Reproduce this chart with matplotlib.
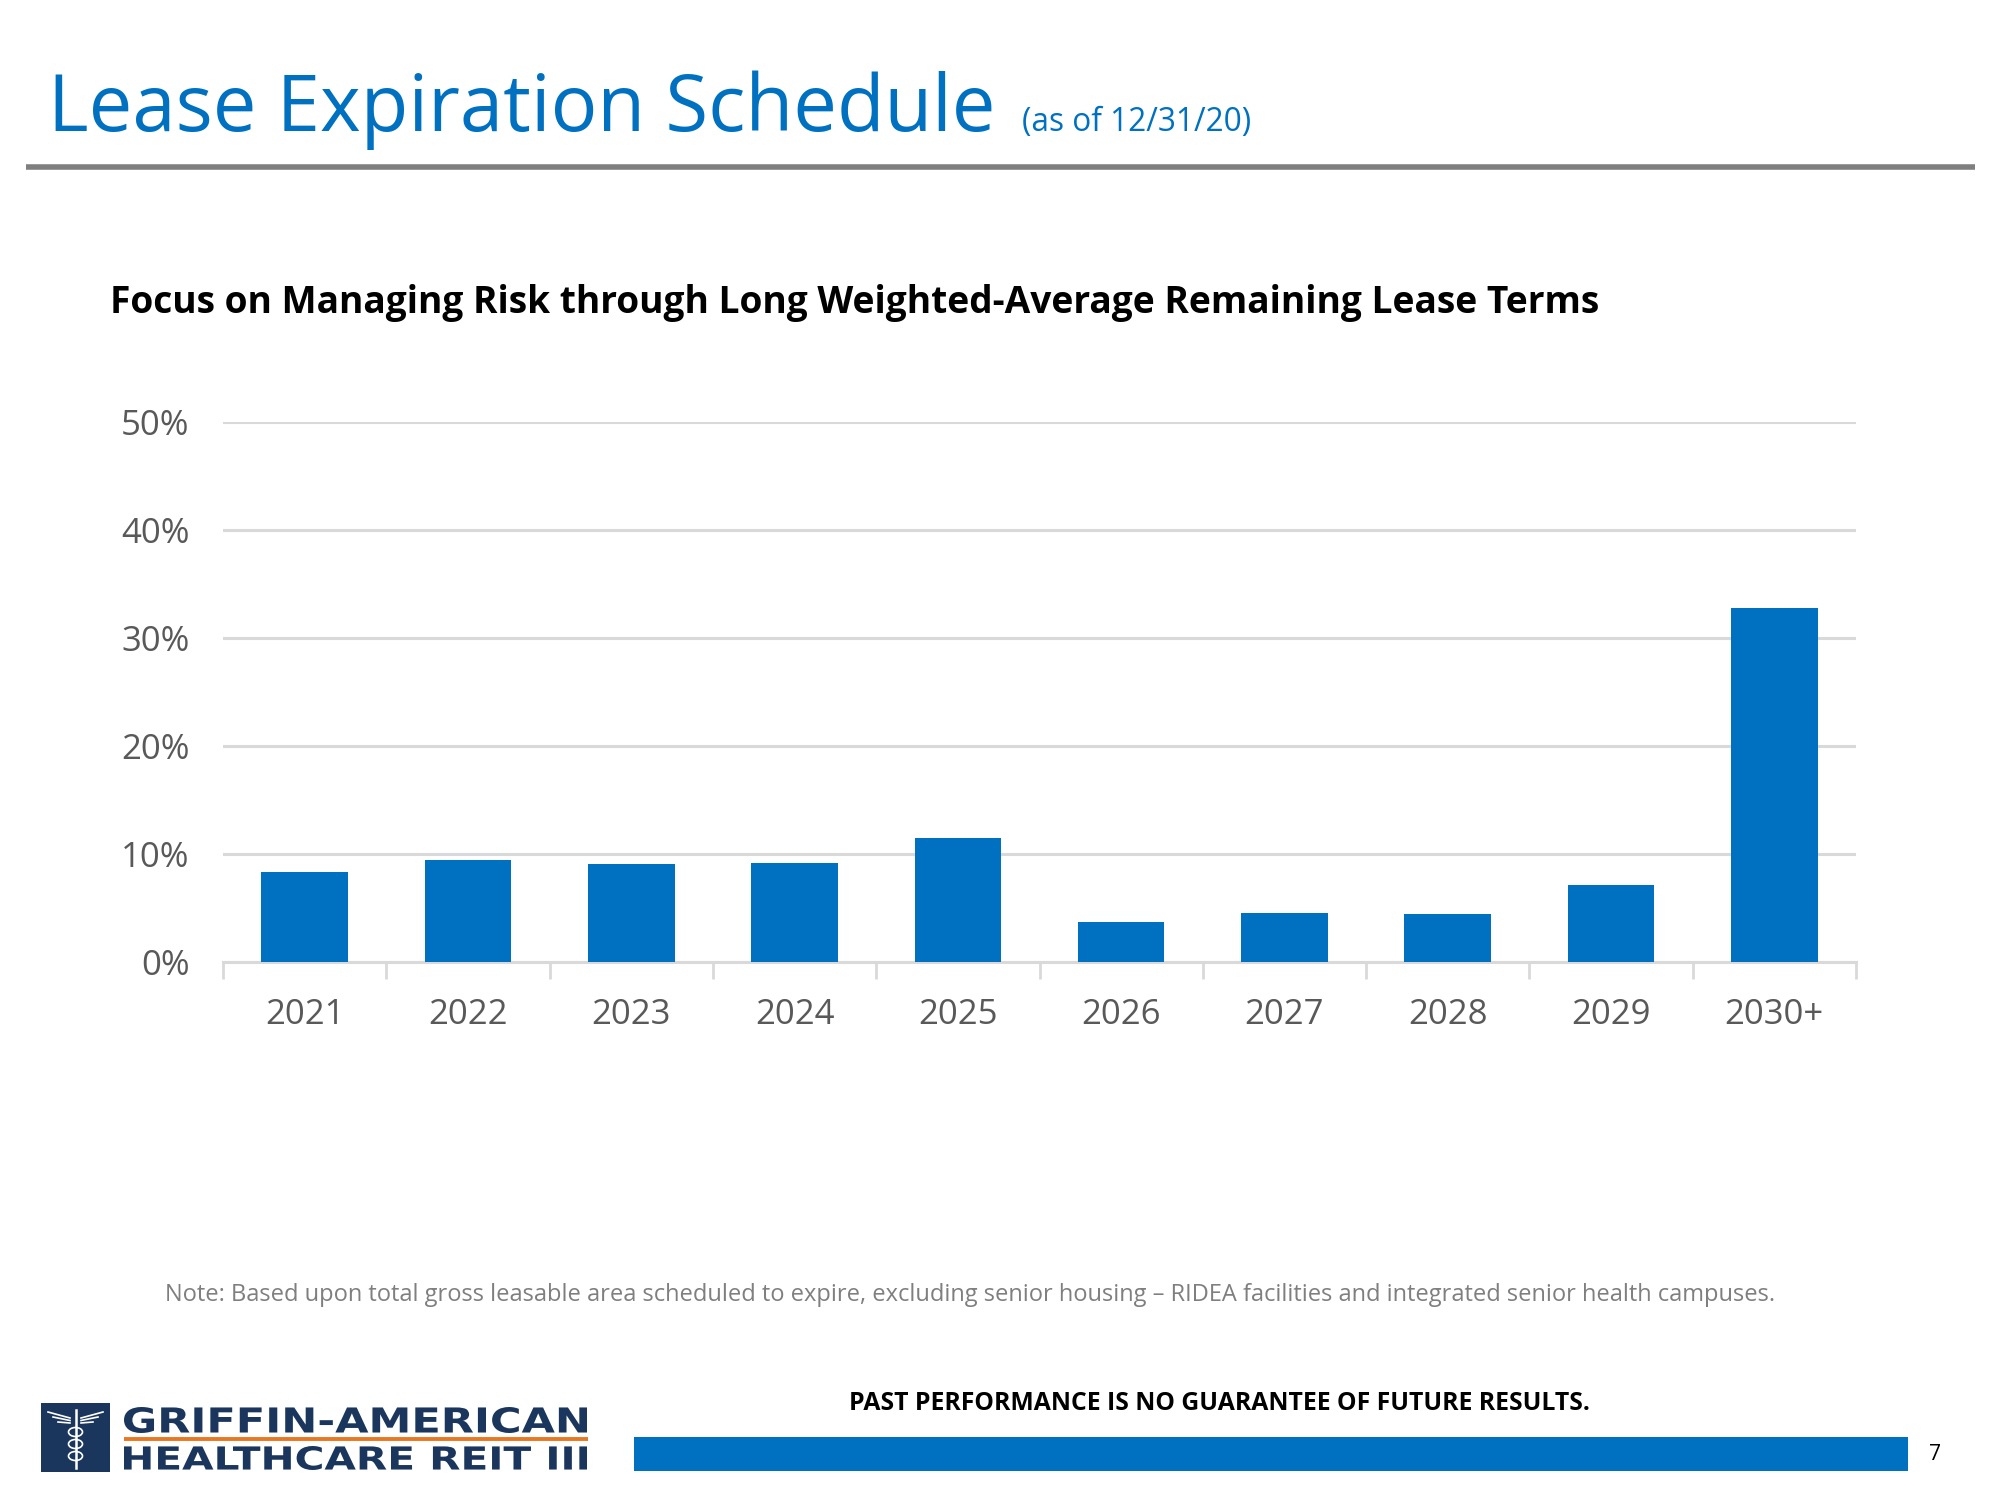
import numpy as np
import matplotlib
matplotlib.use('Agg')
import matplotlib.pyplot as plt
from matplotlib.lines import Line2D
from matplotlib.patches import Rectangle, Ellipse, PathPatch
from matplotlib.textpath import TextPath
from matplotlib.font_manager import FontProperties
from matplotlib.transforms import Affine2D

# --------------------------------------------------------------------------- #
# Data.
years = ['2021', '2022', '2023', '2024', '2025',
         '2026', '2027', '2028', '2029', '2030+']
pct_expiring = [8.3, 9.4, 9.1, 9.2, 11.5, 3.7, 4.5, 4.4, 7.1, 32.8]
yticks = [0, 10, 20, 30, 40, 50]

title = 'Lease Expiration Schedule'
title_date = '(as of 12/31/20)'
subtitle = 'Focus on Managing Risk through Long Weighted-Average Remaining Lease Terms'
note = ('Note: Based upon total gross leasable area scheduled to expire, excluding '
        'senior housing \u2013 RIDEA facilities and integrated senior health campuses.')
disclaimer = 'PAST PERFORMANCE IS NO GUARANTEE OF FUTURE RESULTS.'
page_no = '7'
logo_top = 'GRIFFIN-AMERICAN'
logo_bottom = 'HEALTHCARE REIT III'

blue = '#0070C0'
navy = '#1B365D'
orange = '#E87722'
W, H = 2000, 1500

plt.rcParams['font.family'] = ['Open Sans', 'DejaVu Sans']

fig = plt.figure(figsize=(20, 15), dpi=100)


def fx(x):
    return x / W


def fy(y):
    return 1 - y / H


# --------------------------------------------------------------------------- #
# Header.
fig.text(fx(48), fy(131), title, fontsize=56, color=blue, va='baseline')
fig.text(fx(1022), fy(131), title_date, fontsize=22.8, color=blue, va='baseline')
fig.add_artist(Line2D([fx(26), fx(1975)], [fy(167), fy(167)], color='#7F7F7F',
                      lw=4, solid_capstyle='butt'))
fig.text(fx(110), fy(303), subtitle, fontsize=26.7, fontweight='bold',
         color='black', va='center')

# --------------------------------------------------------------------------- #
# Bar chart.
ax = fig.add_axes([fx(223), fy(962), (1856 - 223) / W, (962 - 422) / H])
x = np.arange(len(years))
ax.bar(x, pct_expiring, width=0.53, color=blue, zorder=3)

ax.set_ylim(0, 50)
ax.set_xlim(-0.5, len(years) - 0.5)
ax.set_yticks(yticks)
ax.set_yticklabels(['%d%%' % v for v in yticks])
ax.yaxis.grid(True, color='#D9D9D9', lw=2.2, zorder=0)
ax.tick_params(axis='y', length=0, pad=24, labelsize=25, labelcolor='#595959')

ax.set_xticks(x)
ax.set_xticklabels(years)
ax.set_xticks(np.arange(len(years) + 1) - 0.5, minor=True)
ax.tick_params(axis='x', which='major', length=0, pad=26, labelsize=25,
               labelcolor='#595959')
ax.tick_params(axis='x', which='minor', length=12, width=2, color='#D9D9D9')

for side in ['top', 'right', 'left']:
    ax.spines[side].set_visible(False)
ax.spines['bottom'].set_color('#D9D9D9')
ax.spines['bottom'].set_linewidth(2.2)

# --------------------------------------------------------------------------- #
# Footer.
fig.text(fx(165), fy(1295), note, fontsize=17, color='#7F7F7F', va='center')
fig.text(fx(1219), fy(1404), disclaimer, fontsize=17.8, fontweight='bold',
         color='black', ha='center', va='center')
fig.add_artist(Rectangle((fx(634), fy(1471)), (1908 - 634) / W, 34 / H,
                         transform=fig.transFigure, color=blue, lw=0))
fig.text(fx(1935), fy(1455), page_no, fontsize=15, color='black',
         ha='center', va='center')

# Logo: navy box with a rough caduceus, and the company name.
fig.add_artist(Rectangle((fx(41), fy(1472)), 69 / W, 69 / H,
                         transform=fig.transFigure, color=navy, lw=0))
fig.add_artist(Line2D([fx(75.5), fx(75.5)], [fy(1410), fy(1468)],
                      color='white', lw=1.8))
for dy in [0, 5, 10]:
    fig.add_artist(Line2D([fx(48 + dy), fx(70)], [fy(1412 + dy), fy(1418 + dy / 2)],
                          color='white', lw=1.2))
    fig.add_artist(Line2D([fx(81), fx(103 - dy)], [fy(1418 + dy / 2), fy(1412 + dy)],
                          color='white', lw=1.2))
for cy in [1432, 1444, 1456]:
    fig.add_artist(Ellipse((fx(75.5), fy(cy)), 14 / W, 9 / H,
                           transform=fig.transFigure, fill=False,
                           ec='white', lw=1.2))


def box_text(txt, x0, x1, ytop, ybot, color):
    # stretch the glyph outlines into a pixel box (the logo face is extended)
    path = TextPath((0, 0), txt, size=40,
                    prop=FontProperties(family='DejaVu Sans', weight='bold'))
    ext = path.get_extents()
    tr = (Affine2D().translate(-ext.x0, -ext.y0)
          .scale((x1 - x0) / W / ext.width, (ybot - ytop) / H / ext.height)
          .translate(fx(x0), fy(ybot)) + fig.transFigure)
    fig.add_artist(PathPatch(path, transform=tr, color=color, lw=0))


box_text(logo_top, 124, 587, 1407, 1433, navy)
fig.add_artist(Line2D([fx(124), fx(588)], [fy(1438.5), fy(1438.5)], color=orange,
                      lw=2.8, solid_capstyle='butt'))
box_text(logo_bottom, 124, 587, 1446, 1470, navy)

fig.savefig('out.png', dpi=100)
